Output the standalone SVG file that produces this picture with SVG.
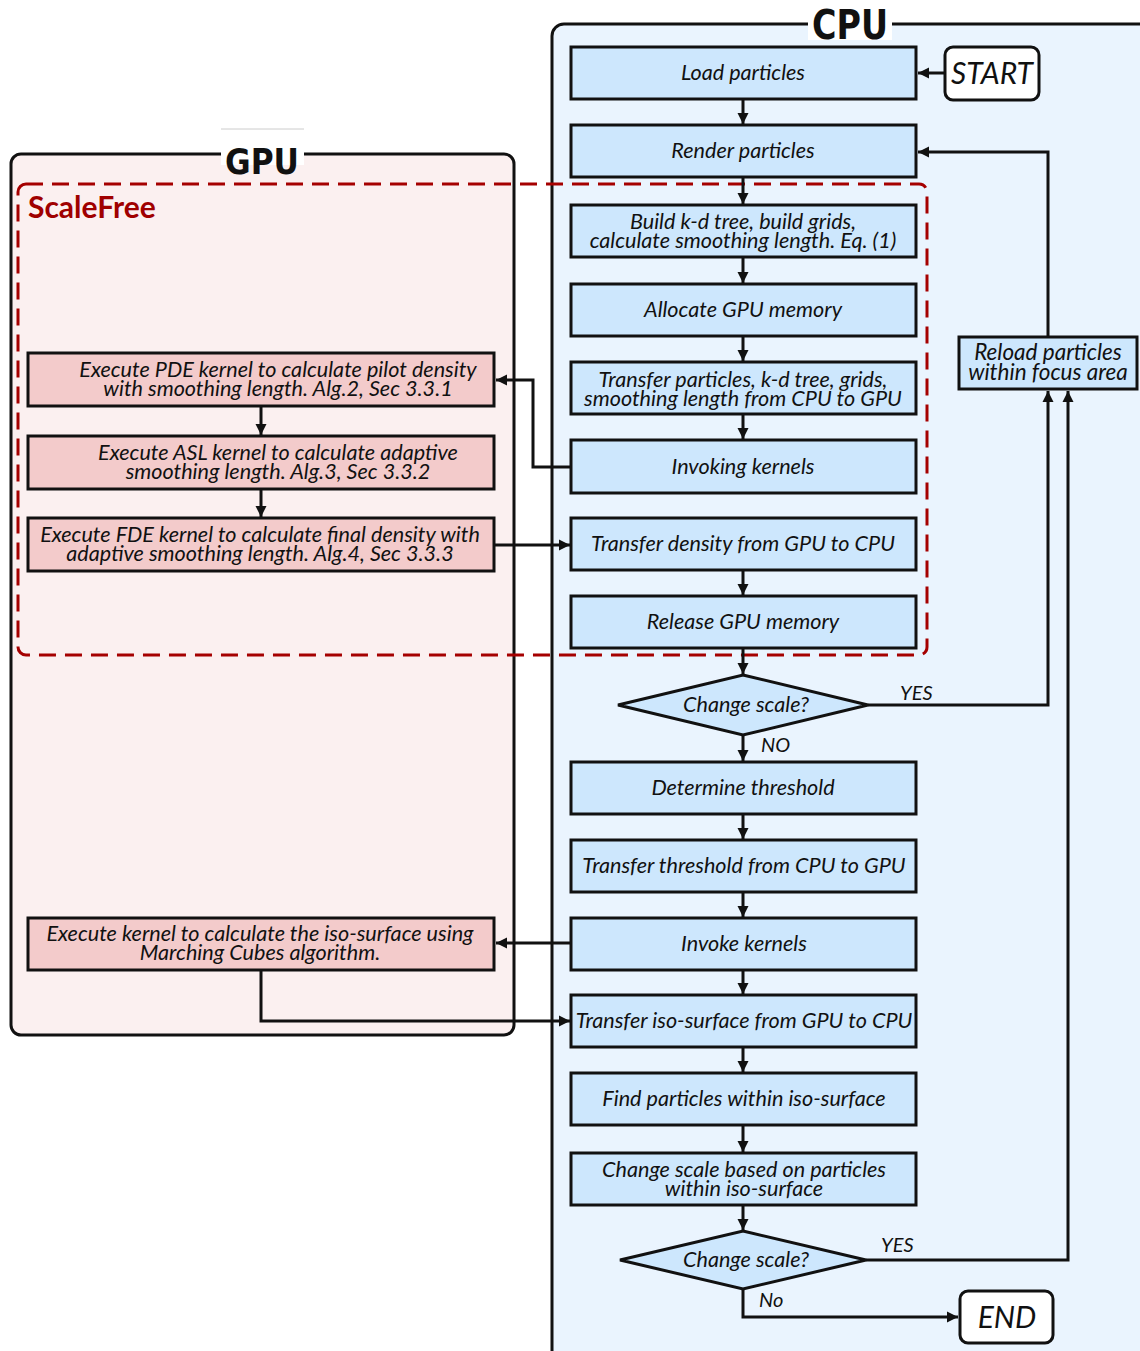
<svg xmlns="http://www.w3.org/2000/svg" width="1140" height="1351" viewBox="0 0 1140 1351">
  <style>
    .t { font-family: Lato, "Open Sans", "DejaVu Sans", sans-serif; font-style: italic; font-size: 21.6px; fill: #111; text-anchor: middle; }
    .big { font-size: 30px; }
    .lbl { font-family: Lato, "Open Sans", "DejaVu Sans", sans-serif; font-style: italic; font-size: 20px; fill: #111; }
    .cpu { fill: #cde7fd; stroke: #111; stroke-width: 3; }
    .gpu { fill: #f3cbcb; stroke: #111; stroke-width: 3; }
    .term { fill: #ffffff; stroke: #111; stroke-width: 3; }
    .title { font-family: "DejaVu Sans Condensed", "Liberation Sans Narrow", "DejaVu Sans", sans-serif; font-weight: bold; font-stretch: condensed; fill: #111; text-anchor: middle; }
    .edge { fill: none; stroke: #111; stroke-width: 3; }
  </style>
  <defs>
    <marker id="arrow" viewBox="0 0 10 10" refX="10" refY="5" markerUnits="userSpaceOnUse" markerWidth="11" markerHeight="12" orient="auto">
      <path d="M0,0 L10,5 L0,10 z" fill="#111"/>
    </marker>
  </defs>

  <rect width="1140" height="1351" fill="#ffffff"/>

  <!-- CPU lane -->
  <g id="cpu-lane">
    <rect x="552" y="24" width="640" height="1400" rx="12" fill="#eaf4fe" stroke="#111" stroke-width="3"/>
    <rect x="808" y="6" width="84" height="34" fill="#ffffff"/>
    <text class="title" x="850" y="39" font-size="40" textLength="76" lengthAdjust="spacingAndGlyphs">CPU</text>
  </g>

  <!-- GPU lane -->
  <g id="gpu-lane">
    <rect x="11" y="154" width="503" height="881" rx="10" fill="#fbf0f0" stroke="#111" stroke-width="3"/>
    <rect x="221" y="129" width="83" height="36" fill="#ffffff"/>
    <line x1="221" y1="129" x2="304" y2="129" stroke="#cccccc" stroke-width="1"/>
    <text class="title" x="262" y="174" font-size="36" textLength="74" lengthAdjust="spacingAndGlyphs">GPU</text>
  </g>

  <!-- ScaleFree region -->
  <g id="scalefree">
    <rect x="18" y="184" width="909" height="471" rx="8" fill="none" stroke="#a50000" stroke-width="3" stroke-dasharray="17 9"/>
    <text x="28" y="218" font-family="Lato, 'Open Sans', sans-serif" font-weight="bold" font-size="30" fill="#a00000">ScaleFree</text>
  </g>

  <!-- connectors -->
  <g id="connectors">
    <path class="edge" d="M945,73 H918" marker-end="url(#arrow)"/>
    <path class="edge" d="M743,99 V124" marker-end="url(#arrow)"/>
    <path class="edge" d="M743,177 V204" marker-end="url(#arrow)"/>
    <path class="edge" d="M743,257 V283" marker-end="url(#arrow)"/>
    <path class="edge" d="M743,336 V361" marker-end="url(#arrow)"/>
    <path class="edge" d="M743,414 V439" marker-end="url(#arrow)"/>
    <path class="edge" d="M571,467 H533 V380 H496" marker-end="url(#arrow)"/>
    <path class="edge" d="M261,406 V435" marker-end="url(#arrow)"/>
    <path class="edge" d="M261,489 V517" marker-end="url(#arrow)"/>
    <path class="edge" d="M494,545 H570" marker-end="url(#arrow)"/>
    <path class="edge" d="M743,570 V595" marker-end="url(#arrow)"/>
    <path class="edge" d="M743,648 V674" marker-end="url(#arrow)"/>
    <path class="edge" d="M743,735 V761" marker-end="url(#arrow)"/>
    <path class="edge" d="M868,705 H1048 V391" marker-end="url(#arrow)"/>
    <path class="edge" d="M1048,337 V152 H918" marker-end="url(#arrow)"/>
    <path class="edge" d="M743,814 V839" marker-end="url(#arrow)"/>
    <path class="edge" d="M743,892 V917" marker-end="url(#arrow)"/>
    <path class="edge" d="M571,943 H496" marker-end="url(#arrow)"/>
    <path class="edge" d="M261,970 V1021 H570" marker-end="url(#arrow)"/>
    <path class="edge" d="M743,970 V994" marker-end="url(#arrow)"/>
    <path class="edge" d="M743,1047 V1072" marker-end="url(#arrow)"/>
    <path class="edge" d="M743,1125 V1152" marker-end="url(#arrow)"/>
    <path class="edge" d="M743,1205 V1230" marker-end="url(#arrow)"/>
    <path class="edge" d="M866,1260 H1068 V391" marker-end="url(#arrow)"/>
    <path class="edge" d="M743,1289 V1317 H958" marker-end="url(#arrow)"/>
    <text class="lbl" x="900" y="700">YES</text>
    <text class="lbl" x="761" y="752">NO</text>
    <text class="lbl" x="881" y="1252">YES</text>
    <text class="lbl" x="759" y="1307">No</text>
  </g>

  <!-- CPU nodes -->
  <g id="start">
    <rect class="term" x="945" y="47" width="94" height="53" rx="8"/>
    <text class="t big" x="992" y="84">START</text>
  </g>
  <g id="load-particles">
    <rect class="cpu" x="571" y="47" width="345" height="52"/>
    <text class="t" x="743" y="80">Load particles</text>
  </g>
  <g id="render-particles">
    <rect class="cpu" x="571" y="125" width="345" height="52"/>
    <text class="t" x="743" y="158">Render particles</text>
  </g>
  <g id="build-tree">
    <rect class="cpu" x="571" y="205" width="345" height="52"/>
    <text class="t" x="743" y="229">Build k-d tree, build grids,</text>
    <text class="t" x="743" y="248">calculate smoothing length. Eq. (1)</text>
  </g>
  <g id="allocate-memory">
    <rect class="cpu" x="571" y="284" width="345" height="52"/>
    <text class="t" x="743" y="317">Allocate GPU memory</text>
  </g>
  <g id="transfer-particles">
    <rect class="cpu" x="571" y="362" width="345" height="52"/>
    <text class="t" x="743" y="387">Transfer particles, k-d tree, grids,</text>
    <text class="t" x="743" y="406">smoothing length from CPU to GPU</text>
  </g>
  <g id="invoking-kernels">
    <rect class="cpu" x="571" y="440" width="345" height="53"/>
    <text class="t" x="743" y="474">Invoking kernels</text>
  </g>
  <g id="transfer-density">
    <rect class="cpu" x="571" y="518" width="345" height="52"/>
    <text class="t" x="743" y="551">Transfer density from GPU to CPU</text>
  </g>
  <g id="release-memory">
    <rect class="cpu" x="571" y="596" width="345" height="52"/>
    <text class="t" x="743" y="629">Release GPU memory</text>
  </g>
  <g id="change-scale-1">
    <polygon class="cpu" points="743,675 868,705 743,735 618,705"/>
    <text class="t" x="746" y="712">Change scale?</text>
  </g>
  <g id="determine-threshold">
    <rect class="cpu" x="571" y="762" width="345" height="52"/>
    <text class="t" x="743" y="795">Determine threshold</text>
  </g>
  <g id="transfer-threshold">
    <rect class="cpu" x="571" y="840" width="345" height="52"/>
    <text class="t" x="744" y="873">Transfer threshold from CPU to GPU</text>
  </g>
  <g id="invoke-kernels">
    <rect class="cpu" x="571" y="918" width="345" height="52"/>
    <text class="t" x="744" y="951">Invoke kernels</text>
  </g>
  <g id="transfer-isosurface">
    <rect class="cpu" x="571" y="995" width="345" height="52"/>
    <text class="t" x="744" y="1028">Transfer iso-surface from GPU to CPU</text>
  </g>
  <g id="find-particles">
    <rect class="cpu" x="571" y="1073" width="345" height="52"/>
    <text class="t" x="744" y="1106">Find particles within iso-surface</text>
  </g>
  <g id="change-scale-based">
    <rect class="cpu" x="571" y="1153" width="345" height="52"/>
    <text class="t" x="744" y="1177">Change scale based on particles</text>
    <text class="t" x="744" y="1196">within iso-surface</text>
  </g>
  <g id="change-scale-2">
    <polygon class="cpu" points="743,1231 866,1260 743,1289 620,1260"/>
    <text class="t" x="746" y="1267">Change scale?</text>
  </g>
  <g id="end">
    <rect class="term" x="960" y="1291" width="93" height="52" rx="8"/>
    <text class="t big" x="1007" y="1328">END</text>
  </g>
  <g id="reload-particles">
    <rect class="cpu" x="959" y="337" width="178" height="52"/>
    <text class="t" x="1048" y="360" style="font-size:22.5px">Reload particles</text>
    <text class="t" x="1048" y="380" style="font-size:22.5px">within focus area</text>
  </g>

  <!-- GPU nodes -->
  <g id="pde-kernel">
    <rect class="gpu" x="28" y="353" width="466" height="53"/>
    <text class="t" x="278" y="377">Execute PDE kernel to calculate pilot density</text>
    <text class="t" x="278" y="396">with smoothing length. Alg.2, Sec 3.3.1</text>
  </g>
  <g id="asl-kernel">
    <rect class="gpu" x="28" y="436" width="466" height="53"/>
    <text class="t" x="278" y="460">Execute ASL kernel to calculate adaptive</text>
    <text class="t" x="278" y="479">smoothing length. Alg.3, Sec 3.3.2</text>
  </g>
  <g id="fde-kernel">
    <rect class="gpu" x="28" y="518" width="466" height="53"/>
    <text class="t" x="260" y="542">Execute FDE kernel to calculate final density with</text>
    <text class="t" x="260" y="561">adaptive smoothing length. Alg.4, Sec 3.3.3</text>
  </g>
  <g id="marching-cubes">
    <rect class="gpu" x="28" y="918" width="466" height="52"/>
    <text class="t" x="260" y="941">Execute kernel to calculate the iso-surface using</text>
    <text class="t" x="260" y="960">Marching Cubes algorithm.</text>
  </g>
</svg>
